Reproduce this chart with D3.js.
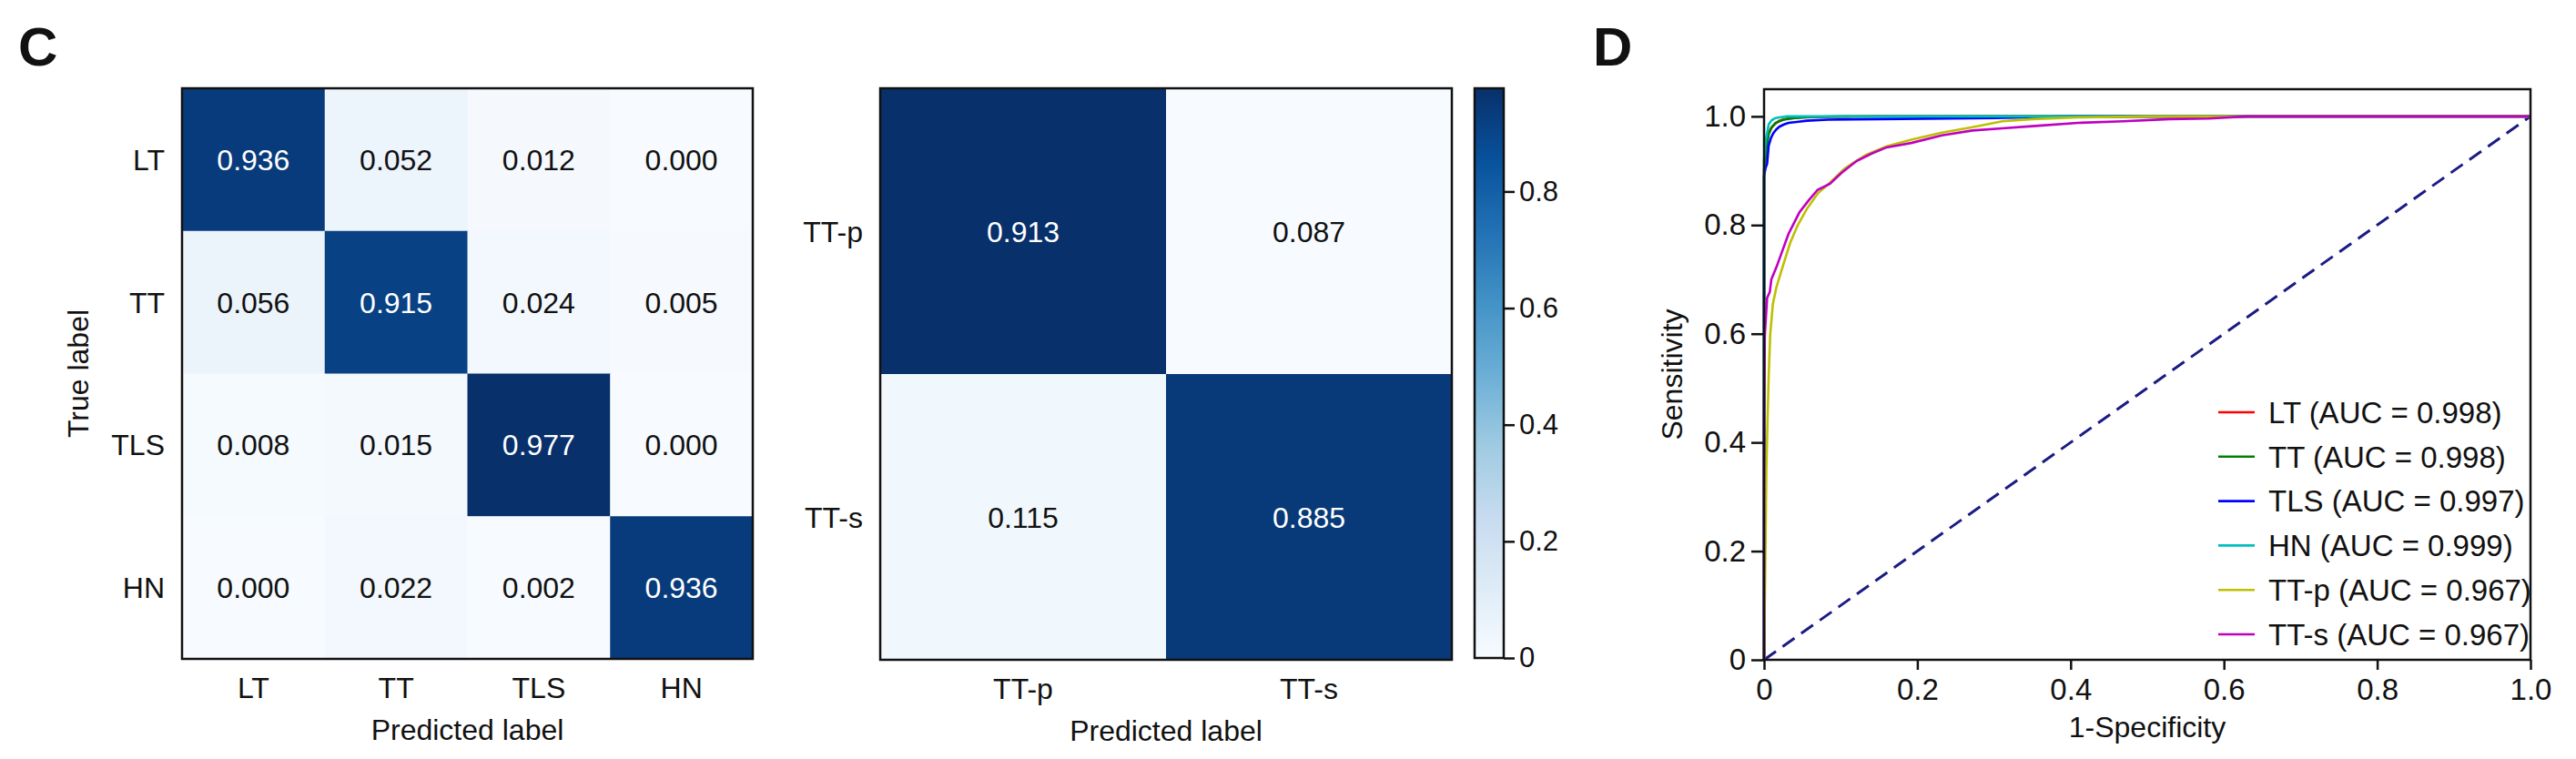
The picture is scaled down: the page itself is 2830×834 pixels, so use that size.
<!DOCTYPE html>
<html>
<head>
<meta charset="utf-8">
<script src="https://cdn.jsdelivr.net/npm/d3@7"></script>
<style>
  body { margin: 0; background: #fff; }
  text { font-family: "Liberation Sans", Arial, sans-serif; fill: #111; }
</style>
</head>
<body>
<div id="chart"></div>
<script>
// ---- data ----
var classes4 = ["LT", "TT", "TLS", "HN"];
var matrix4 = [
  [0.936, 0.052, 0.012, 0.000],
  [0.056, 0.915, 0.024, 0.005],
  [0.008, 0.015, 0.977, 0.000],
  [0.000, 0.022, 0.002, 0.936]
];
var classes2 = ["TT-p", "TT-s"];
var matrix2 = [
  [0.913, 0.087],
  [0.115, 0.885]
];
var colorbarTicks = [0, 0.2, 0.4, 0.6, 0.8];
var rocTicks = [0, 0.2, 0.4, 0.6, 0.8, 1.0];

// matplotlib "Blues" anchor colours
var bluesColors = ["#f7fbff", "#deebf7", "#c6dbef", "#9ecae1", "#6baed6", "#4292c6", "#2171b5", "#08519c", "#08306b"];

var rocNames = ["LT", "TT", "TLS", "HN", "TT-p", "TT-s"];
var rocAuc = [0.998, 0.998, 0.997, 0.999, 0.967, 0.967];
var rocColors = ["#ff0000", "#008000", "#0000ff", "#00bfbf", "#bfbf00", "#bf00bf"];

var fprLT = [0, 0, 0.003, 0.006, 0.01, 0.015, 0.02, 0.03, 0.05, 0.08, 0.15, 1];
var tprLT = [0, 0.9, 0.95, 0.97, 0.98, 0.987, 0.992, 0.996, 0.998, 0.999, 1, 1];
var fprTT = [0, 0, 0.003, 0.006, 0.01, 0.015, 0.025, 0.04, 0.06, 0.1, 1];
var tprTT = [0, 0.89, 0.94, 0.967, 0.98, 0.988, 0.994, 0.997, 0.999, 1, 1];
var fprTLS = [0, 0, 0.002, 0.004, 0.006, 0.009, 0.012, 0.016, 0.02, 0.026, 0.032, 0.045, 0.056, 0.083, 0.15, 0.3, 0.4, 1];
var tprTLS = [0, 0.89, 0.905, 0.913, 0.946, 0.96, 0.969, 0.976, 0.981, 0.985, 0.988, 0.99, 0.992, 0.994, 0.995, 0.997, 1, 1];
var fprHN = [0, 0, 0.002, 0.004, 0.006, 0.01, 0.015, 0.02, 0.03, 1];
var tprHN = [0, 0.92, 0.955, 0.969, 0.985, 0.993, 0.997, 0.998, 1, 1];
var fprTTp = [0, 0.002, 0.003, 0.004, 0.006, 0.008, 0.0115, 0.016, 0.024, 0.034, 0.044, 0.056, 0.07, 0.086, 0.105, 0.133, 0.16, 0.192, 0.232, 0.272, 0.311, 0.35, 0.41, 0.5, 1];
var tprTTp = [0, 0.22, 0.35, 0.41, 0.52, 0.598, 0.655, 0.685, 0.722, 0.767, 0.80, 0.83, 0.858, 0.878, 0.904, 0.929, 0.945, 0.957, 0.970, 0.980, 0.991, 0.995, 0.998, 1, 1];
var fprTTs = [0, 0, 0.001, 0.004, 0.0075, 0.0095, 0.016, 0.032, 0.046, 0.058, 0.07, 0.086, 0.101, 0.121, 0.141, 0.16, 0.192, 0.232, 0.272, 0.311, 0.35, 0.41, 0.469, 0.529, 0.58, 0.63, 1];
var tprTTs = [0, 0.45, 0.598, 0.666, 0.677, 0.70, 0.722, 0.784, 0.823, 0.845, 0.865, 0.876, 0.896, 0.918, 0.932, 0.943, 0.951, 0.965, 0.974, 0.978, 0.982, 0.988, 0.991, 0.995, 0.996, 1, 1];

var rocFpr = [fprLT, fprTT, fprTLS, fprHN, fprTTp, fprTTs];
var rocTpr = [tprLT, tprTT, tprTLS, tprHN, tprTTp, tprTTs];

// ---- svg ----
var svgWidth = 2830;
var svgHeight = 834;
var svg = d3.select("#chart").append("svg")
  .attr("width", svgWidth)
  .attr("height", svgHeight);

var fontSize = 32;

// colour scale like matplotlib's Blues, normalised per matrix (min..max)
function bluesScale(lo, hi) {
  var n = bluesColors.length;
  return d3.scaleLinear()
    .domain(d3.range(n).map(i => lo + (hi - lo) * i / (n - 1)))
    .range(bluesColors)
    .interpolate(d3.interpolateRgb)
    .clamp(true);
}

// panel letters
svg.append("text").attr("x", 20).attr("y", 72)
  .style("font-size", "60px").style("font-weight", "bold").text("C");
svg.append("text").attr("x", 1750).attr("y", 72)
  .style("font-size", "60px").style("font-weight", "bold").text("D");

// confusion matrix helper
function drawMatrix(left, top, size, labels, matrix, yTitle) {
  var g = svg.append("g").attr("transform", `translate(${left}, ${top})`);
  var x = d3.scaleBand().domain(labels).range([0, size]);
  var y = d3.scaleBand().domain(labels).range([0, size]);

  var cells = [];
  matrix.forEach(function(row, i) {
    row.forEach(function(v, j) {
      cells.push({ r: labels[i], c: labels[j], v: v });
    });
  });
  var lo = d3.min(cells, d => d.v), hi = d3.max(cells, d => d.v);
  var color = bluesScale(lo, hi);

  g.selectAll("rect.cell")
    .data(cells)
    .enter()
    .append("rect")
    .attr("class", "cell")
    .attr("x", d => x(d.c))
    .attr("y", d => y(d.r))
    .attr("width", x.bandwidth() + 0.5)
    .attr("height", y.bandwidth() + 0.5)
    .attr("fill", d => color(d.v));

  g.selectAll("text.val")
    .data(cells)
    .enter()
    .append("text")
    .attr("class", "val")
    .attr("x", d => x(d.c) + x.bandwidth() / 2)
    .attr("y", d => y(d.r) + y.bandwidth() / 2)
    .attr("dy", "0.36em")
    .attr("text-anchor", "middle")
    .style("font-size", fontSize + "px")
    .style("fill", d => d.v > (lo + hi) / 2 ? "#ffffff" : "#111111")
    .text(d => d3.format(".3f")(d.v));

  g.append("rect")
    .attr("width", size).attr("height", size)
    .attr("fill", "none").attr("stroke", "#111").attr("stroke-width", 2.5);

  var yAxis = g.append("g").call(d3.axisLeft(y).tickSize(0).tickPadding(19));
  yAxis.select(".domain").remove();
  yAxis.selectAll("text").style("font-size", fontSize + "px").attr("dy", "0.36em");

  var xAxis = g.append("g").attr("transform", `translate(0, ${size})`)
    .call(d3.axisBottom(x).tickSize(0).tickPadding(20));
  xAxis.select(".domain").remove();
  xAxis.selectAll("text").style("font-size", fontSize + "px");

  g.append("text")
    .attr("x", size / 2).attr("y", size + 89)
    .attr("text-anchor", "middle")
    .style("font-size", fontSize + "px")
    .text("Predicted label");

  if (yTitle) {
    g.append("text")
      .attr("transform", "rotate(-90)")
      .attr("x", -size / 2).attr("y", -(left - 85))
      .attr("dy", "0.36em")
      .attr("text-anchor", "middle")
      .style("font-size", fontSize + "px")
      .text(yTitle);
  }
}

drawMatrix(200, 97, 627, classes4, matrix4, "True label");
drawMatrix(967, 97, 628, classes2, matrix2, null);

// colorbar (scale of the 4-class matrix)
var vmax = d3.max(matrix4.flat());
var cbColor = bluesScale(0, vmax);
var cbLeft = 1620, cbTop = 97, cbW = 32, cbH = 626;
var defs = svg.append("defs");
var grad = defs.append("linearGradient").attr("id", "cbgrad")
  .attr("x1", "0").attr("y1", "1").attr("x2", "0").attr("y2", "0");
d3.range(0, 1.0001, 0.125).forEach(function(t) {
  grad.append("stop").attr("offset", t).attr("stop-color", cbColor(t * vmax));
});
svg.append("rect")
  .attr("x", cbLeft).attr("y", cbTop).attr("width", cbW).attr("height", cbH)
  .attr("fill", "url(#cbgrad)").attr("stroke", "#111").attr("stroke-width", 2.5);
var cbScale = d3.scaleLinear().domain([0, vmax]).range([cbTop + cbH, cbTop]);
var cbAxis = svg.append("g").attr("transform", `translate(${cbLeft + cbW}, 0)`)
  .call(d3.axisRight(cbScale).tickValues(colorbarTicks).tickSize(12).tickPadding(5)
    .tickFormat(d => d === 0 ? "0" : d3.format(".1f")(d)));
cbAxis.select(".domain").remove();
cbAxis.selectAll("line").attr("stroke", "#111").attr("stroke-width", 2.5);
cbAxis.selectAll("text").style("font-size", "31px");

// ROC panel
var rocLeft = 1938, rocRight = 2780, rocTop = 98, rocBottom = 725;
var xRoc = d3.scaleLinear().domain([0, 1]).range([rocLeft, rocRight]);
var yRoc = d3.scaleLinear().domain([0, 1.05]).range([rocBottom, rocTop]);

var rocG = svg.append("g");

rocG.append("line")
  .attr("x1", xRoc(0)).attr("y1", yRoc(0))
  .attr("x2", xRoc(1)).attr("y2", yRoc(1))
  .attr("stroke", "#1b1b84").attr("stroke-width", 3)
  .attr("stroke-dasharray", "16,9");

var line = d3.line()
  .x(d => xRoc(d[0]))
  .y(d => yRoc(d[1]));

rocNames.forEach(function(name, i) {
  var pts = rocFpr[i].map((f, k) => [f, rocTpr[i][k]]);
  rocG.append("path")
    .datum(pts)
    .attr("d", line)
    .attr("fill", "none")
    .attr("stroke", rocColors[i])
    .attr("stroke-width", 2.6);
});

rocG.append("rect")
  .attr("x", rocLeft).attr("y", rocTop)
  .attr("width", rocRight - rocLeft).attr("height", rocBottom - rocTop)
  .attr("fill", "none").attr("stroke", "#111").attr("stroke-width", 2.5);

var tickFmt = d => d === 0 ? "0" : d3.format(".1f")(d);
var rxAxis = svg.append("g").attr("transform", `translate(0, ${rocBottom})`)
  .call(d3.axisBottom(xRoc).tickValues(rocTicks).tickSize(11).tickPadding(10).tickFormat(tickFmt));
rxAxis.select(".domain").remove();
rxAxis.selectAll("line").attr("stroke", "#111").attr("stroke-width", 2.5);
rxAxis.selectAll("text").style("font-size", "33px");

var ryAxis = svg.append("g").attr("transform", `translate(${rocLeft}, 0)`)
  .call(d3.axisLeft(yRoc).tickValues(rocTicks).tickSize(14).tickPadding(6).tickFormat(tickFmt));
ryAxis.select(".domain").remove();
ryAxis.selectAll("line").attr("stroke", "#111").attr("stroke-width", 2.5);
ryAxis.selectAll("text").style("font-size", "33px");

svg.append("text")
  .attr("x", (rocLeft + rocRight) / 2).attr("y", 810)
  .attr("text-anchor", "middle")
  .style("font-size", fontSize + "px")
  .text("1-Specificity");

svg.append("text")
  .attr("transform", "rotate(-90)")
  .attr("x", -(rocTop + rocBottom) / 2).attr("y", 1836)
  .attr("dy", "0.36em")
  .attr("text-anchor", "middle")
  .style("font-size", fontSize + "px")
  .text("Sensitivity");

// legend
var legend = svg.append("g").selectAll("g")
  .data(rocNames)
  .enter()
  .append("g")
  .attr("transform", (d, i) => `translate(2437, ${453 + i * 48.8})`);
legend.append("line")
  .attr("x1", 0).attr("x2", 40)
  .attr("stroke", (d, i) => rocColors[i])
  .attr("stroke-width", 2.6);
legend.append("text")
  .attr("x", 55).attr("dy", "0.36em")
  .style("font-size", "33px")
  .text((d, i) => `${d} (AUC = ${d3.format(".3f")(rocAuc[i])})`);
</script>
</body>
</html>
